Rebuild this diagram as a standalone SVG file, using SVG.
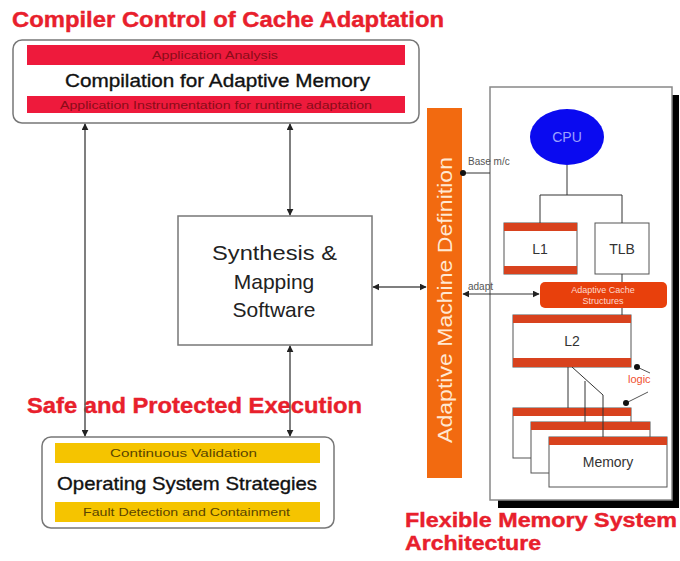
<svg xmlns="http://www.w3.org/2000/svg" width="680" height="561" viewBox="0 0 680 561">
  <defs>
    <marker id="arr" viewBox="0 0 10 10" refX="9" refY="5" markerWidth="7" markerHeight="7" orient="auto-start-reverse" markerUnits="userSpaceOnUse">
      <path d="M0,0 L10,5 L0,10 z" fill="#222"/>
    </marker>
    <marker id="dot" viewBox="0 0 10 10" refX="5" refY="5" markerWidth="6" markerHeight="6" markerUnits="userSpaceOnUse">
      <circle cx="5" cy="5" r="5" fill="#111"/>
    </marker>
  </defs>
  <style>
    .title { font-family: "Liberation Sans", Arial, sans-serif; font-weight: bold; font-size: 22px; fill: #e8202c; stroke: #e8202c; stroke-width: 0.4; }
    .title2 { font-family: "Liberation Sans", Arial, sans-serif; font-weight: bold; font-size: 20px; fill: #e8202c; stroke: #e8202c; stroke-width: 0.4; }
    .main { font-family: "Liberation Sans", Arial, sans-serif; font-size: 19px; fill: #111; stroke: #111; stroke-width: 0.35; }
    .bar { font-family: "Liberation Sans", Arial, sans-serif; font-size: 11px; }
    .small { font-family: "Liberation Sans", Arial, sans-serif; font-size: 10px; fill: #555; }
    .box { fill: #fff; stroke: #777; stroke-width: 1.5; }
    .thin { fill: #fff; stroke: #555; stroke-width: 1; }
    .stripe { fill: #d8421e; }
    .conn { stroke: #555; stroke-width: 1.5; fill: none; }
    .wire { stroke: #333; stroke-width: 1; fill: none; }
    .label { font-family: "Liberation Sans", Arial, sans-serif; font-size: 14px; fill: #333; }
    .syn { font-family: "Liberation Sans", Arial, sans-serif; font-size: 21px; fill: #222; }
  </style>
  <rect width="680" height="561" fill="#fff"/>

  <!-- section headings -->
  <text class="title" x="12" y="27" textLength="432" lengthAdjust="spacingAndGlyphs">Compiler Control of Cache Adaptation</text>
  <text class="title" x="27" y="413" textLength="335" lengthAdjust="spacingAndGlyphs">Safe and Protected Execution</text>
  <text class="title2" x="405" y="527" textLength="272" lengthAdjust="spacingAndGlyphs">Flexible Memory System</text>
  <text class="title2" x="405" y="550" textLength="136" lengthAdjust="spacingAndGlyphs">Architecture</text>

  <!-- compiler block -->
  <g id="compiler">
    <rect class="box" x="13" y="40" width="406" height="83" rx="9"/>
    <rect x="27" y="45" width="378" height="20" fill="#ee1a3c"/>
    <text class="bar" x="152" y="59" textLength="126" lengthAdjust="spacingAndGlyphs" fill="#8a0c18">Application Analysis</text>
    <text class="main" x="65" y="87" textLength="305" lengthAdjust="spacingAndGlyphs">Compilation for Adaptive Memory</text>
    <rect x="27" y="96" width="378" height="17" fill="#ee1a3c"/>
    <text class="bar" x="60" y="108.5" textLength="312" lengthAdjust="spacingAndGlyphs" fill="#8a0c18">Application Instrumentation for runtime adaptation</text>
  </g>

  <!-- synthesis block -->
  <g id="synthesis">
    <rect class="box" x="178" y="216" width="194" height="129"/>
    <text class="syn" x="212" y="260" textLength="125" lengthAdjust="spacingAndGlyphs">Synthesis &amp;</text>
    <text class="syn" x="274" y="289" text-anchor="middle">Mapping</text>
    <text class="syn" x="274" y="317" text-anchor="middle">Software</text>
  </g>

  <!-- operating system block -->
  <g id="os">
    <rect class="box" x="42" y="437" width="292" height="91" rx="9"/>
    <rect x="55" y="443" width="265" height="20" fill="#f5c400"/>
    <text class="bar" x="110" y="457" textLength="147" lengthAdjust="spacingAndGlyphs" fill="#5a4400">Continuous Validation</text>
    <text class="main" x="57" y="490" textLength="260" lengthAdjust="spacingAndGlyphs">Operating System Strategies</text>
    <rect x="55" y="502" width="265" height="20" fill="#f5c400"/>
    <text class="bar" x="83" y="516" textLength="207" lengthAdjust="spacingAndGlyphs" fill="#5a4400">Fault Detection and Containment</text>
  </g>

  <!-- adaptive machine definition bar -->
  <g id="amd">
    <rect x="427" y="108" width="35" height="370" fill="#f26a10"/>
    <text transform="translate(452,443) rotate(-90)" font-family="Liberation Sans, Arial, sans-serif" font-size="21" fill="#ffe8d2" textLength="286" lengthAdjust="spacingAndGlyphs">Adaptive Machine Definition</text>
  </g>

  <!-- memory system -->
  <g id="memsys">
    <rect x="498" y="95" width="181" height="413" fill="#000"/>
    <rect x="490" y="87" width="182" height="413" fill="#fff" stroke="#888" stroke-width="1.5"/>
  </g>

  <g id="cpu">
    <ellipse cx="567" cy="137" rx="37" ry="28" fill="#0a0af0"/>
    <text x="567" y="142" text-anchor="middle" font-family="Liberation Sans, Arial, sans-serif" font-size="14" fill="#9aa0ff">CPU</text>
  </g>

  <g id="l1">
    <rect class="thin" x="504" y="223" width="73" height="51"/>
    <rect class="stripe" x="504" y="223" width="73" height="8"/>
    <rect class="stripe" x="504" y="266" width="73" height="8"/>
    <text class="label" x="540" y="254" text-anchor="middle">L1</text>
  </g>

  <g id="tlb">
    <rect class="thin" x="595" y="223" width="54" height="51"/>
    <text class="label" x="622" y="254" text-anchor="middle">TLB</text>
  </g>

  <g id="acs">
    <rect x="540" y="282" width="127" height="26" rx="5" fill="#e8400c"/>
    <text x="603" y="293" text-anchor="middle" font-family="Liberation Sans, Arial, sans-serif" font-size="9" fill="#ffd8cc">Adaptive Cache</text>
    <text x="603" y="304" text-anchor="middle" font-family="Liberation Sans, Arial, sans-serif" font-size="9" fill="#ffd8cc">Structures</text>
  </g>

  <g id="l2">
    <rect class="thin" x="513" y="315" width="118" height="52"/>
    <rect class="stripe" x="513" y="315" width="118" height="8"/>
    <rect class="stripe" x="513" y="358" width="118" height="9"/>
    <text class="label" x="572" y="346" text-anchor="middle">L2</text>
  </g>

  <g id="memory">
    <rect class="thin" x="513" y="408" width="118" height="50"/>
    <rect class="stripe" x="513" y="408" width="118" height="8"/>
    <rect class="thin" x="531" y="422" width="119" height="51"/>
    <rect class="stripe" x="531" y="422" width="119" height="8"/>
    <rect class="thin" x="549" y="437" width="118" height="50"/>
    <rect class="stripe" x="549" y="437" width="118" height="8"/>
    <text class="label" x="608" y="467" text-anchor="middle">Memory</text>
  </g>

  <g id="logic">
    <text x="628" y="383" font-family="Liberation Sans, Arial, sans-serif" font-size="11" fill="#f05030">logic</text>
  </g>

  <!-- connectors -->
  <g id="connectors">
    <line class="conn" x1="85" y1="124" x2="85" y2="436" marker-start="url(#arr)" marker-end="url(#arr)"/>
    <line class="conn" x1="290" y1="124" x2="290" y2="215" marker-start="url(#arr)" marker-end="url(#arr)"/>
    <line class="conn" x1="290" y1="346" x2="290" y2="436" marker-start="url(#arr)" marker-end="url(#arr)"/>
    <line class="conn" x1="373" y1="287" x2="426" y2="287" marker-start="url(#arr)" marker-end="url(#arr)"/>

    <!-- base machine link -->
    <line class="wire" x1="463" y1="173" x2="490" y2="173" marker-start="url(#dot)"/>
    <text class="small" x="468" y="165">Base m/c</text>

    <!-- adapt link -->
    <line class="wire" x1="463" y1="294" x2="539" y2="294" marker-start="url(#arr)" marker-end="url(#arr)"/>
    <text class="small" x="468" y="290" font-size="9">adapt</text>

    <!-- cpu tree -->
    <polyline class="wire" points="567,165 567,195"/>
    <polyline class="wire" points="540,223 540,195 622,195 622,223"/>
    <line class="wire" x1="622" y1="274" x2="622" y2="282"/>
    <line class="wire" x1="622" y1="308" x2="622" y2="315"/>

    <!-- L2 to memory banks -->
    <line class="wire" x1="568" y1="367" x2="568" y2="408"/>
    <polyline class="wire" points="572,367 603,395 603,437"/>
    <line class="wire" x1="585" y1="381" x2="585" y2="422"/>

    <!-- logic pointers -->
    <line x1="637" y1="367" x2="650" y2="373" stroke="#555" stroke-width="1" marker-start="url(#dot)"/>
    <line x1="626" y1="403" x2="648" y2="392" stroke="#555" stroke-width="1" marker-start="url(#dot)"/>
  </g>
</svg>
